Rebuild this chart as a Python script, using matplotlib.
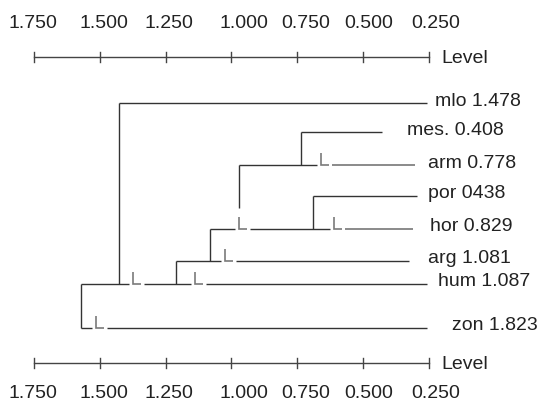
import matplotlib.pyplot as plt
from matplotlib import font_manager

plt.rcParams['font.family'] = ['Liberation Sans', 'DejaVu Sans']

# scale
levels = [1.75, 1.5, 1.25, 1.0, 0.75, 0.5, 0.25]
level_labels = ['1.750', '1.500', '1.250', '1.000', '0.750', '0.500', '0.250']

# leaves, top to bottom
leaves = ['mlo', 'mes.', 'arm', 'por', 'hor', 'arg', 'hum', 'zon']
leaf_values = ['1.478', '0.408', '0.778', '0438', '0.829', '1.081', '1.087', '1.823']
leaf_ends = [0.259, 0.430, 0.303, 0.297, 0.311, 0.325, 0.259, 0.259]

# joins: (upper leaf, lower leaf, level)
joins = [('mes.', 'arm', 0.737), ('por', 'hor', 0.689), ('arm', 'hor', 0.973),
         ('hor', 'arg', 1.082), ('arg', 'hum', 1.212), ('mlo', 'hum', 1.426),
         ('hum', 'zon', 1.573)]

# little "L" marks sitting on the branches
marks = [('arm', 0.661), ('hor', 0.973), ('hor', 0.610), ('arg', 1.025),
         ('hum', 1.375), ('hum', 1.139), ('zon', 1.516)]

# layout (pixels)
rows = [103.3, 132.3, 165, 196, 228.5, 260.5, 283.5, 328]
label_pad = [8, 25, 13, 11, 17, 19, 11, 25]
tick_shift = [-1.5, 4.5, 3, 12, 8.5, 6, 7]
grey_tail = ['arm', 'hor']

W, H = 542, 408
PPU = 263.33  # pixels per level unit
X0 = 34       # pixel of level 1.75

fig = plt.figure(figsize=(W / 100, H / 100), dpi=100)
ax = fig.add_axes([0, 0, 1, 1])
ax.set_xlim(1.75 + X0 / PPU, 1.75 - (W - X0) / PPU)
ax.set_ylim(H, 0)
ax.axis('off')


def px(p):
    return p / PPU


dark = '#333333'
markc = '#7a7a7a'
tailc = '#8a8a8a'

row_of = dict(zip(leaves, rows))

# vertical connectors
for up, low, lev in joins:
    y_end = row_of[low]
    if (low, lev) in marks:
        y_end = row_of[low] - 21
    ax.plot([lev, lev], [row_of[up], y_end], color=dark, lw=1.0,
            solid_capstyle='butt')

# horizontal branches with marks
for i, leaf in enumerate(leaves):
    y = rows[i]
    start = max(lev for up, low, lev in joins if leaf in (up, low))
    ms = sorted([m for name, m in marks if name == leaf], reverse=True)
    x = start
    col, lw = dark, 1.0
    for k, m in enumerate(ms):
        ax.plot([x, m + px(4)], [y, y], color=col, lw=lw, solid_capstyle='butt')
        ax.plot([m, m, m - px(8)], [y - 12, y, y], color=markc, lw=1.2,
                solid_capstyle='butt', solid_joinstyle='miter')
        x = m - px(11)
        if k == len(ms) - 1 and leaf in grey_tail:
            col, lw = tailc, 1.4
    ax.plot([x, leaf_ends[i]], [y, y], color=col, lw=lw, solid_capstyle='butt')
    ax.text(leaf_ends[i] - px(label_pad[i]), y - 2,
            f'{leaf} {leaf_values[i]}', fontsize=14, color='#222222',
            ha='left', va='center')

# level scales, top and bottom
names = {f.name for f in font_manager.fontManager.ttflist}
narrow = 'Liberation Sans Narrow' if 'Liberation Sans Narrow' in names else 'Liberation Sans'
for y_bar, y_lab in [(56.7, 23), (362.7, 393)]:
    ax.plot([levels[0], levels[-1]], [y_bar, y_bar], color='#444444', lw=1.0)
    for lev, lab, sh in zip(levels, level_labels, tick_shift):
        ax.plot([lev, lev], [y_bar - 5, y_bar + 5], color='#444444', lw=1.0)
        ax.text(lev - px(sh), y_lab, lab, fontsize=14, color='#222222',
                ha='center', va='center')
    ax.text(levels[-1] - px(12.7), y_bar + 2, 'Level', fontsize=14,
            family=narrow, color='#222222', ha='left', va='center')

fig.savefig('out.png', dpi=100)
